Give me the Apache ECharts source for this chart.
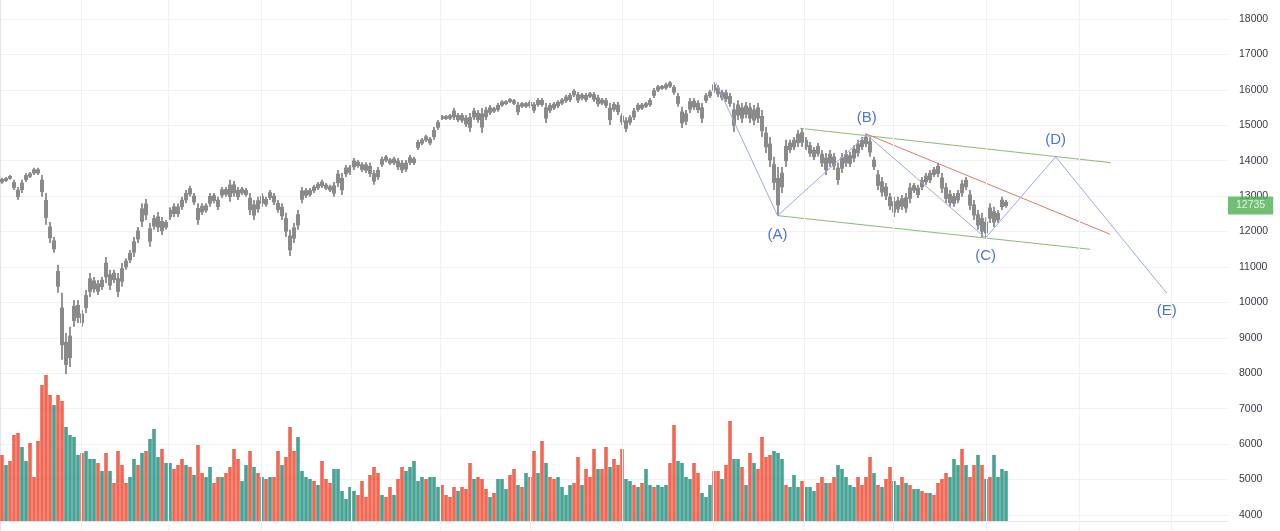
<!DOCTYPE html>
<html>
<head>
<meta charset="utf-8">
<script src="https://cdn.jsdelivr.net/npm/echarts@6/dist/echarts.min.js"></script>
<style>
  html, body { margin: 0; padding: 0; background: #ffffff; }
  #chart { width: 1280px; height: 531px; }
</style>
</head>
<body>
<div id="chart"></div>
<script>
// ---- price bars (one bar per column, low / high) ----
const priceLow = [
13350,13400,13460,13170,12890,13090,13400,13510,13600,13600,
12980,12190,11680,11400,10270,8380,7980,8180,9310,9420,
9310,9700,10150,10270,10210,10350,10550,10350,10550,10150,
10440,10920,11110,11280,11680,12130,12330,11570,12050,11990,
11900,12050,12330,12410,12410,12610,12800,12980,12750,12190,
12470,12530,12700,12800,12610,12950,12980,12840,12980,12890,
13030,12980,12470,12330,12530,12700,12700,12890,12750,12530,
12330,11850,11310,11680,12050,12800,12950,12980,13090,13170,
13230,13170,13120,12980,13260,13030,13540,13600,13740,13800,
13680,13650,13540,13320,13460,13820,13960,13880,13880,13740,
13650,13680,13880,13880,14300,14440,14530,14440,14590,14870,
15150,15150,15150,15150,15090,15070,14950,14810,15150,15070,
14780,15150,15290,15350,15380,15520,15570,15630,15570,15290,
15490,15490,15490,15350,15520,15520,15065,15350,15430,15490,
15570,15630,15660,15800,15630,15710,15660,15770,15660,15520,
15570,15490,15010,15380,15290,15010,14810,15010,15150,15380,
15430,15490,15520,15770,15940,16000,16000,16050,15860,15520,
14920,15010,15350,15430,15350,15065,15630,15770,15910,15800,
15710,15660,15520,14810,15150,15065,15200,15065,15010,15065,
14670,14220,13820,13170,12440,13090,13820,14220,14300,14390,
14390,14300,14110,14020,14110,13820,13600,13820,13740,13320,
13650,13820,13820,13960,14110,14300,14390,14110,13740,13170,
12980,12890,12610,12410,12530,12610,12530,12800,13090,12950,
13170,13320,13370,13540,13540,13090,12800,12700,12700,12800,
12980,13170,12610,12330,12050,11850,11820,12240,12130,12240,
12610,12670
];
const priceHigh = [
13520,13540,13600,13460,13260,13460,13650,13680,13800,13800,
13600,13090,12270,11850,11060,10270,9140,9310,10070,10070,
9790,10350,10830,10720,10630,10720,11280,10920,10920,10830,
11110,11250,11480,11850,12130,12800,12920,12240,12470,12550,
12410,12330,12690,12800,12790,12980,13170,13290,13090,12800,
12800,12800,13090,13090,12980,13260,13260,13460,13430,13260,
13260,13230,13090,12890,12980,13090,12980,13170,13090,12890,
12800,12530,12050,12240,12610,13260,13230,13230,13320,13400,
13460,13370,13320,13400,13740,13650,13880,13880,14080,14020,
13960,13960,13940,13740,13820,14110,14160,14080,14110,14080,
14020,14020,14160,14110,14590,14640,14730,14670,14950,15150,
15290,15290,15320,15490,15350,15350,15290,15350,15490,15430,
15490,15520,15570,15520,15630,15710,15710,15770,15740,15660,
15660,15660,15710,15660,15770,15770,15630,15630,15660,15710,
15770,15860,15910,16020,15940,15910,15910,15940,15940,15860,
15770,15770,15630,15660,15660,15350,15230,15290,15490,15630,
15630,15660,15770,16050,16140,16140,16200,16250,16140,15910,
15520,15430,15770,15770,15710,15630,15910,16000,16220,16140,
16000,16000,15910,15630,15710,15630,15660,15630,15570,15630,
15430,14950,14670,14110,13820,13820,14590,14590,14670,14870,
14920,14670,14530,14390,14500,14300,14220,14300,14220,13940,
14220,14300,14250,14440,14590,14670,14750,14670,14110,13740,
13540,13370,13090,12980,12980,13030,13090,13370,13370,13320,
13540,13650,13740,13820,13940,13650,13370,13170,13090,13170,
13460,13540,13170,12890,12610,12530,12410,12800,12700,12610,
12980,12890
];
// ---- volume (same bars), and up/down colouring ----
const volume = [
33,28,30,43,44,37,30,39,22,40,
68,73,63,58,63,60,47,43,42,33,
34,35,31,31,29,25,34,25,19,35,
28,19,22,31,28,34,35,41,46,32,
36,29,29,26,28,31,28,27,23,38,
24,22,27,19,22,22,24,27,36,31,
20,28,35,27,24,22,21,22,22,35,
28,32,47,35,42,25,22,21,20,18,
30,21,19,26,26,15,11,17,15,13,
20,12,23,27,24,13,12,17,13,21,
27,25,27,30,20,22,21,22,22,17,
18,13,12,17,15,17,16,29,21,22,
21,16,12,14,21,21,16,23,26,18,
17,24,22,35,24,40,29,22,21,22,
17,13,18,19,32,18,26,22,36,26,
26,37,27,31,28,36,21,20,18,17,
19,26,18,17,18,17,18,29,48,30,
29,22,21,29,24,14,12,18,25,25,
21,28,50,31,31,27,18,34,29,26,
42,32,33,35,34,31,18,17,23,17,
20,17,17,15,19,22,19,19,22,28,
26,22,18,17,22,18,22,32,24,18,
17,21,27,20,18,22,19,18,16,16,
15,14,14,13,19,21,24,22,31,28,
36,28,22,28,33,28,21,22,33,22,
26,25
];
const volumeDir =
  'RGRRRGGRRR' + 'RRRGRRGGGG' + 'RGGGRGRGRR' + 'RRGGRGRGGG' + 'RGGRRRGRGR' +
  'RGGRRGRRRR' + 'GGRGRGRGRR' + 'GRRRGGGGRG' + 'RRRGGGGGGR' + 'RRRRRGRRGR' +
  'RGGGGGRGGG' + 'RRRRGRRRGR' + 'RRGRGGGRRG' + 'RGRRGRGRRG' + 'GGGRRGRRRG' +
  'RRGRRRGGRG' + 'RGGRGGGRRG' + 'GGGRRGGGRR' + 'GRRGGRGRGR' + 'RRRGGGRGGG' +
  'RGGGRRGRRG' + 'GGGGRRRRGR' + 'GRRGGRGRGG' + 'RRGRRRRGGG' + 'RGRRGRGRGG' +
  'GG';
// ---- price scale ticks ----
const priceTicks = [4000,5000,6000,7000,8000,9000,10000,11000,12000,13000,14000,15000,16000,17000,18000];
const lastPrice = 12735;
// ---- time positions (bar units) of quarter starts ----
const quarterStarts = [20.2, 42.1, 65.4, 87.7, 110, 132.5, 155.6, 178.3, 201, 223.3, 246.5, 269.8, 292.9];
const timeExtent = [0, 307];
// ---- wave count (bar units, price) ----
const waveX = [179, 194.4, 216.7, 246.4, 263.9, 291.7];
const waveY = [16200, 12450, 14730, 11820, 14110, 10260];
const waveLabels = ['', '(A)', '(B)', '(C)', '(D)', '(E)'];
const channelUpper = [[200, 14915], [277.7, 13945]];
const channelLower = [[194.4, 12450], [272.5, 11500]];
const trendRed = [[216.25, 14770], [277.5, 11925]];

const chart = echarts.init(document.getElementById('chart'), null, { renderer: 'canvas' });

const barData = priceLow.map((lo, i) => [i + 0.5, lo, priceHigh[i]]);
const volData = volume.map((v, i) => ({
  value: [i + 0.5, v],
  itemStyle: { color: volumeDir[i] === 'G' ? '#35998a' : '#ee5640' }
}));
const waveData = waveX.map((x, i) => [x, waveY[i]]);
const labelPos = ['top', 'bottom', 'top', 'bottom', 'top', 'bottom'];
const labelDist = [0, 12, 9, 10, 9, 10];
const waveLabelData = waveX.map((x, i) => ({
  value: [x, waveY[i]],
  label: { show: i > 0, formatter: waveLabels[i], position: labelPos[i], distance: labelDist[i] }
}));

const gridLineColor = '#eff1f5';
const axisFont = 'Liberation Sans, Arial, sans-serif';
const barGrey = '#8a8a8a';

const option = {
  animation: false,
  backgroundColor: '#ffffff',
  grid: [
    { left: 0, right: 52, top: 19, bottom: 16, containLabel: false },
    { left: 0, right: 52, top: 0, bottom: 0, containLabel: false }
  ],
  xAxis: [
    { type: 'value', gridIndex: 0, min: timeExtent[0], max: timeExtent[1], show: false },
    { type: 'value', gridIndex: 1, min: timeExtent[0], max: timeExtent[1],
      axisLine: { show: true, onZero: true, lineStyle: { color: '#e3e5ea' } },
      axisTick: { show: false }, axisLabel: { show: false }, splitLine: { show: false } }
  ],
  yAxis: [
    { type: 'value', gridIndex: 0, position: 'right',
      min: priceTicks[0], max: priceTicks[priceTicks.length - 1], interval: priceTicks[1] - priceTicks[0],
      axisLine: { show: false }, axisTick: { show: false },
      axisLabel: { show: true, margin: 11, fontSize: 10.5, color: '#363a45',
        fontFamily: axisFont, align: 'left', formatter: v => String(v) },
      splitLine: { show: true, lineStyle: { color: gridLineColor, width: 1 } } },
    { type: 'value', gridIndex: 1, position: 'right', min: -5, max: 260.5,
      axisLine: { show: true, lineStyle: { color: '#e0e3ea' } },
      axisTick: { show: false }, axisLabel: { show: false }, splitLine: { show: false } }
  ],
  series: [
    {
      name: 'volume', type: 'bar', xAxisIndex: 1, yAxisIndex: 1,
      data: volData, barWidth: 3.6, barGap: '-100%', z: 1,
      itemStyle: { opacity: 0.9 },
      markLine: {
        silent: true, symbol: 'none', label: { show: false },
        lineStyle: { color: gridLineColor, width: 1, type: 'solid' },
        data: quarterStarts.map(q => ({ xAxis: q }))
      }
    },
    {
      name: 'price', type: 'custom', xAxisIndex: 0, yAxisIndex: 0, z: 3,
      data: barData,
      renderItem: function (params, api) {
        const x = api.value(0);
        const top = api.coord([x, api.value(2)]);
        const bot = api.coord([x, api.value(1)]);
        const h = Math.max(1, bot[1] - top[1]);
        return {
          type: 'group',
          children: [
            { type: 'rect', shape: { x: top[0] - 0.9, y: top[1], width: 1.8, height: h },
              style: { fill: barGrey } },
            { type: 'rect', shape: { x: top[0] - 2, y: top[1] + h * 0.22, width: 4, height: Math.max(1, h * 0.56) },
              style: { fill: barGrey } }
          ]
        };
      }
    },
    {
      name: 'channelUpper', type: 'line', xAxisIndex: 0, yAxisIndex: 0, z: 4,
      data: channelUpper, symbol: 'none', lineStyle: { color: '#86bd73', width: 1 }
    },
    {
      name: 'channelLower', type: 'line', xAxisIndex: 0, yAxisIndex: 0, z: 4,
      data: channelLower, symbol: 'none', lineStyle: { color: '#86bd73', width: 1 }
    },
    {
      name: 'trend', type: 'line', xAxisIndex: 0, yAxisIndex: 0, z: 4,
      data: trendRed, symbol: 'none', lineStyle: { color: '#e0776a', width: 1 }
    },
    {
      name: 'wave', type: 'line', xAxisIndex: 0, yAxisIndex: 0, z: 5,
      data: waveData, symbol: 'none', lineStyle: { color: '#9eaae3', width: 1 }
    },
    {
      name: 'lastPrice', type: 'scatter', xAxisIndex: 0, yAxisIndex: 0, z: 10,
      clip: false, symbolSize: 0, silent: true,
      data: [[timeExtent[1], lastPrice]],
      label: {
        show: true, position: 'right', distance: 0,
        formatter: String(lastPrice), color: '#ffffff', fontSize: 10.5,
        fontFamily: axisFont,
        backgroundColor: '#4caf50', padding: [4, 8, 3, 8]
      }
    },
    {
      name: 'waveLabels', type: 'scatter', xAxisIndex: 0, yAxisIndex: 0, z: 6,
      symbolSize: 0, data: waveLabelData,
      label: { color: '#2152c8', fontSize: 15, fontFamily: axisFont }
    }
  ]
};
chart.setOption(option);
</script>
</body>
</html>
